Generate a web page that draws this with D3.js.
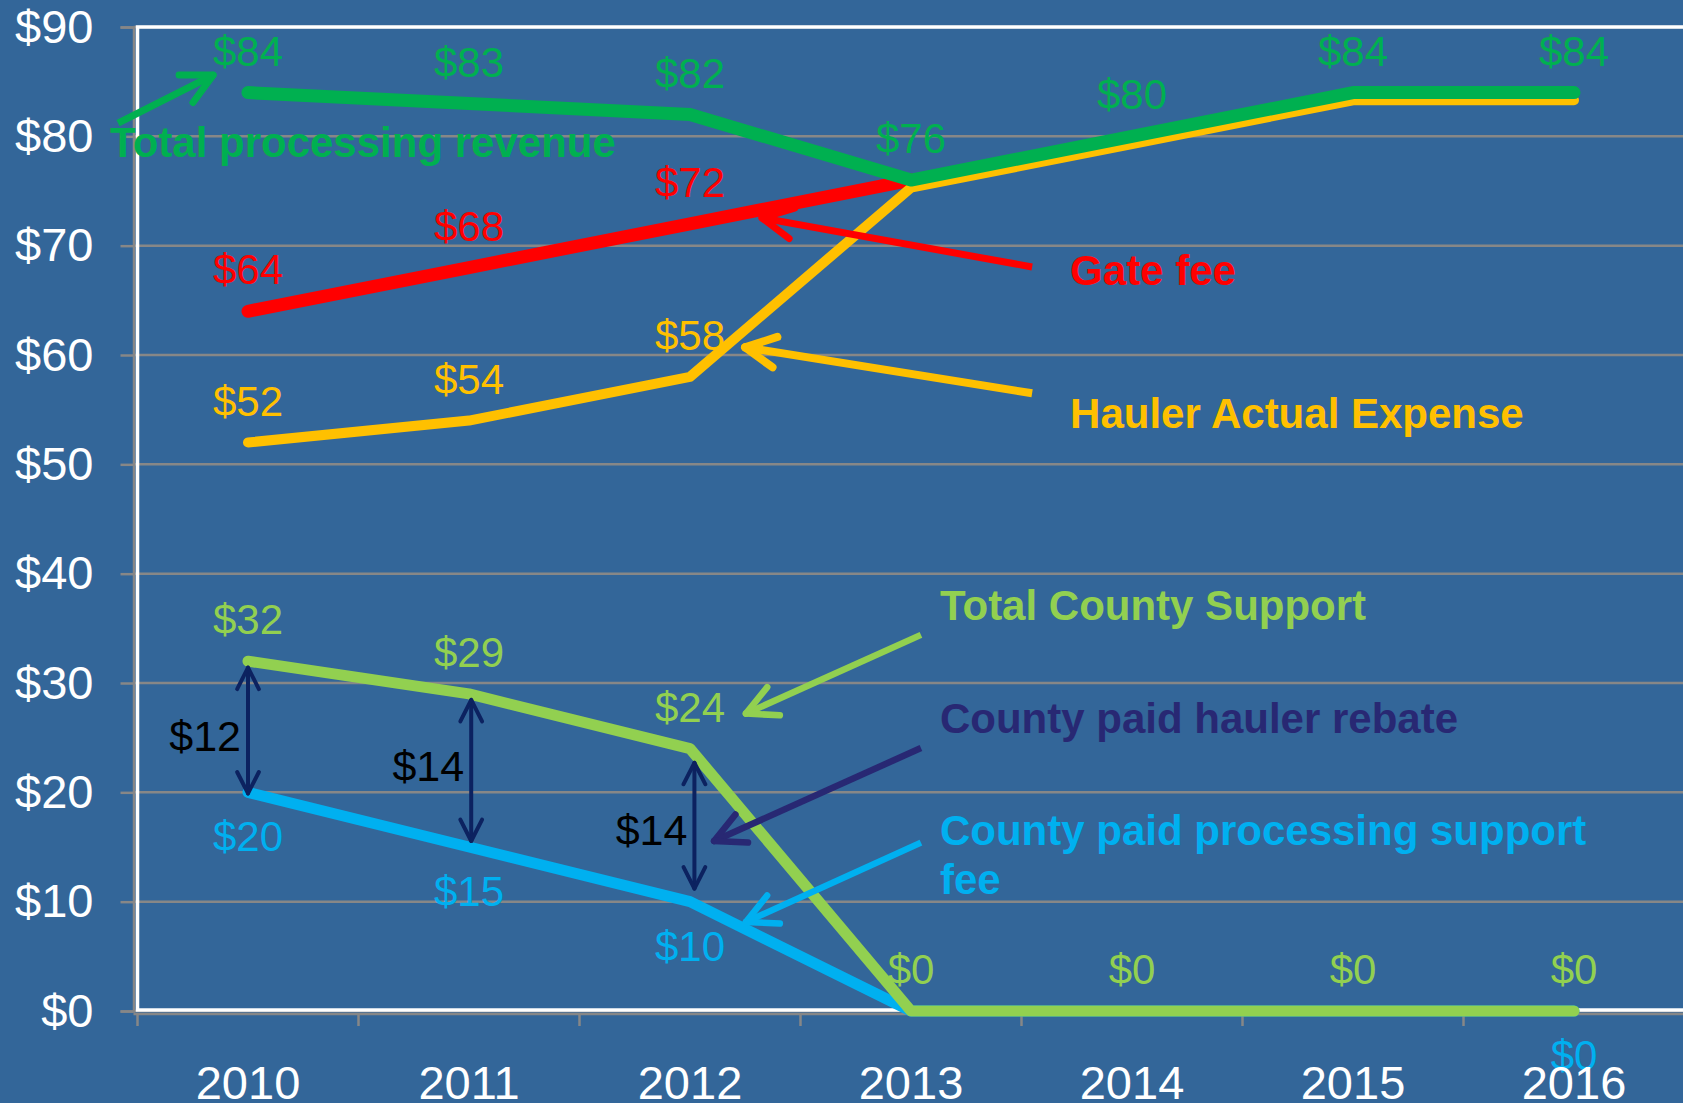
<!DOCTYPE html>
<html lang="en">
<head>
    <meta charset="UTF-8">
    <title>Processing revenue and county support</title>
    <script src="https://d3js.org/d3.v7.min.js"></script>
    <style>
        body { margin: 0; background: #336699; }
        svg { display: block; font-family: "Liberation Sans", Arial, sans-serif; }
        .ylab { fill: white; font-size: 47px; }
        .xlab { fill: white; font-size: 47px; }
        .dlab { font-size: 42px; }
        .callout { font-size: 42px; font-weight: bold; }
        .gaplab { font-size: 43px; fill: black; }
    </style>
</head>
<body>
<svg width="1683" height="1103"></svg>
<script>
// data
const years = ["2010", "2011", "2012", "2013", "2014", "2015", "2016"];
const totalRevenue = [84, 83, 82, 76, 80, 84, 84];
const gateFee = [64, 68, 72, 76, null, null, null];
const haulerExpense = [52, 54, 58, 75.3, 79.3, 83.3, 83.3];
const countySupport = [32, 29, 24, 0, 0, 0, 0];
const processingFee = [20, 15, 10, 0, 0, 0, 0];
const yTicks = [0, 10, 20, 30, 40, 50, 60, 70, 80, 90];

const svg = d3.select("svg");
const plotLeft = 137.5, plotTop = 27, plotBottom = 1011, band = 221;

const x = d3.scaleBand().domain(years).range([plotLeft, plotLeft + band * years.length]);
const y = d3.scaleLinear().domain([0, 90]).range([plotBottom, plotTop]);
// centre of a (possibly fractional) category index
const cx = i => x.range()[0] + x.step() * (i + 0.5);

// gridlines
svg.append("g").selectAll("line")
    .data(yTicks)
    .join("line")
    .attr("x1", plotLeft - 4).attr("x2", 1690)
    .attr("y1", d => y(d)).attr("y2", d => y(d))
    .attr("stroke", "#878787").attr("stroke-width", 2.5);

// y axis
const yAxis = svg.append("g")
    .attr("transform", `translate(${plotLeft - 4},0)`)
    .call(d3.axisLeft(y).tickValues(yTicks).tickFormat(d => "$" + d).tickSize(13).tickPadding(27));
yAxis.select(".domain").attr("stroke", "#878787").attr("stroke-width", 2.5);
yAxis.selectAll(".tick line").attr("stroke", "#878787").attr("stroke-width", 2.5);
yAxis.selectAll(".tick text").attr("class", "ylab").attr("fill", null);
yAxis.attr("font-size", null).attr("font-family", null);

// x axis line + ticks at band edges
svg.append("line")
    .attr("x1", plotLeft - 4).attr("x2", 1690)
    .attr("y1", plotBottom + 3).attr("y2", plotBottom + 3)
    .attr("stroke", "#878787").attr("stroke-width", 2.5);
svg.append("g").selectAll("line")
    .data(d3.range(years.length + 1))
    .join("line")
    .attr("x1", i => plotLeft + i * x.step()).attr("x2", i => plotLeft + i * x.step())
    .attr("y1", plotBottom + 3).attr("y2", plotBottom + 15)
    .attr("stroke", "#878787").attr("stroke-width", 2.5);

// plot border
svg.append("rect")
    .attr("x", plotLeft).attr("y", plotTop)
    .attr("width", 1700 - plotLeft).attr("height", plotBottom - plotTop - 1)
    .attr("fill", "none").attr("stroke", "white").attr("stroke-width", 3.5);

// series, drawn bottom to top
const series = [
    { values: processingFee, color: "#00B0F0", width: 11, labels: [0, 1, 2, 6], below: true },
    { values: countySupport, color: "#92D050", width: 11, labels: [0, 1, 2, 3, 4, 5, 6] },
    { values: gateFee, color: "#FF0000", width: 13, labels: [0, 1, 2] },
    { values: haulerExpense, color: "#FFC000", width: 10, labels: [0, 1, 2] },
    { values: totalRevenue, color: "#00B050", width: 13, labels: [0, 1, 2, 3, 4, 5, 6] }
];

const line = d3.line()
    .defined(d => d != null)
    .x((d, i) => cx(i))
    .y(d => y(d));

series.forEach(s => {
    svg.append("path")
        .datum(s.values)
        .attr("d", line)
        .attr("fill", "none")
        .attr("stroke", s.color)
        .attr("stroke-width", s.width)
        .attr("stroke-linecap", "round")
        .attr("stroke-linejoin", "round");
});

series.forEach(s => {
    svg.append("g").selectAll("text")
        .data(s.labels)
        .join("text")
        .attr("class", "dlab")
        .attr("fill", s.color)
        .attr("text-anchor", "middle")
        .attr("x", i => cx(i))
        .attr("y", i => y(s.values[i]) + (s.below ? 44 : -42))
        .attr("dy", "0.36em")
        .text(i => "$" + Math.round(s.values[i]));
});

// open chevron arrow head at (tx,ty), pointing away from (fx,fy)
function head(g, fx, fy, tx, ty, len, color, w) {
    const a = Math.atan2(fy - ty, fx - tx);
    [-0.47, 0.47].forEach(o => {
        g.append("line")
            .attr("x1", tx).attr("y1", ty)
            .attr("x2", tx + len * Math.cos(a + o)).attr("y2", ty + len * Math.sin(a + o))
            .attr("stroke", color).attr("stroke-width", w).attr("stroke-linecap", "round");
    });
}
function arrow(from, to, color, w, len, both) {
    const g = svg.append("g");
    const fx = cx(from[0]), fy = y(from[1]), tx = cx(to[0]), ty = y(to[1]);
    g.append("line")
        .attr("x1", fx).attr("y1", fy).attr("x2", tx).attr("y2", ty)
        .attr("stroke", color).attr("stroke-width", w).attr("stroke-linecap", "butt");
    head(g, fx, fy, tx, ty, len, color, w);
    if (both) head(g, tx, ty, fx, fy, len, color, w);
}

// gap arrows between total county support and processing fee
const gapArrows = [
    { i: 0, top: 31.4, bot: 19.9, base: 23.8 },
    { i: 1.01, top: 28.45, bot: 15.55, base: 21.0 },
    { i: 2.02, top: 22.7, bot: 11.2, base: 15.2 }
];
gapArrows.forEach((g, k) => {
    arrow([g.i, g.top], [g.i, g.bot], "#0C2260", 4, 24, true);
    svg.append("text")
        .attr("class", "gaplab")
        .attr("text-anchor", "end")
        .attr("x", cx(g.i) - 7)
        .attr("y", y(g.base))
        .text("$" + (countySupport[k] - processingFee[k]));
});

// callouts
const callouts = [
    { text: ["Total processing revenue"], color: "#00B050", at: [-0.624, 78.1], from: [-0.588, 81.2], to: [-0.158, 85.6], w: 7 },
    { text: ["Gate fee"], color: "#FF0000", at: [3.72, 66.4], from: [3.548, 68.05], to: [2.326, 72.53], w: 7 },
    { text: ["Hauler Actual Expense"], color: "#FFC000", at: [3.72, 53.3], from: [3.548, 56.5], to: [2.249, 60.7], w: 8 },
    { text: ["Total County Support"], color: "#92D050", at: [3.131, 35.8], from: [3.045, 34.4], to: [2.253, 27.2], w: 6.5 },
    { text: ["County paid hauler rebate"], color: "#282873", at: [3.131, 25.4], from: [3.045, 24.05], to: [2.109, 15.55], w: 6.5 },
    { text: ["County paid processing support", "fee"], color: "#00B0F0", at: [3.131, 15.2], from: [3.045, 15.4], to: [2.253, 8.14], w: 6.5 }
];
callouts.forEach(c => {
    arrow(c.from, c.to, c.color, c.w, 34);
    svg.append("text")
        .attr("class", "callout")
        .attr("fill", c.color)
        .attr("x", cx(c.at[0]))
        .attr("y", y(c.at[1]))
        .selectAll("tspan")
        .data(c.text)
        .join("tspan")
        .attr("x", cx(c.at[0]))
        .attr("dy", (d, i) => i ? 49 : 0)
        .text(d => d);
});

// year labels
svg.append("g").selectAll("text")
    .data(years)
    .join("text")
    .attr("class", "xlab")
    .attr("text-anchor", "middle")
    .attr("x", d => x(d) + x.bandwidth() / 2)
    .attr("y", 1082)
    .attr("dy", "0.36em")
    .text(d => d);
</script>
</body>
</html>
